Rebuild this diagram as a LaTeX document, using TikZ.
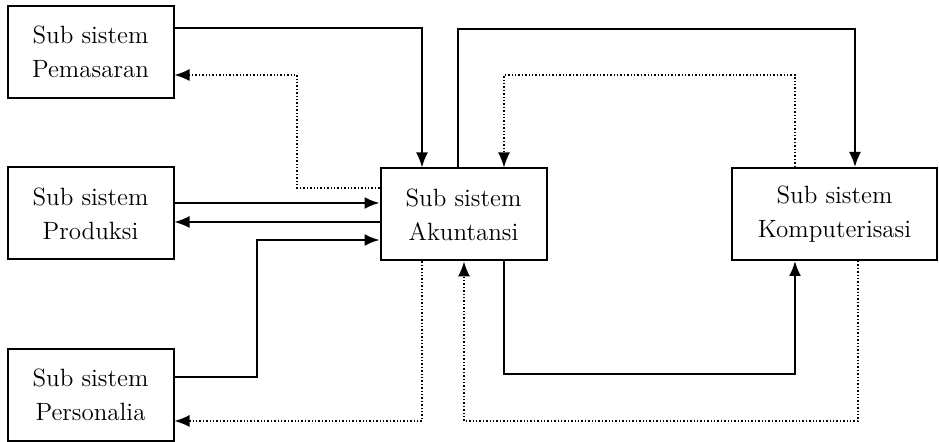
\documentclass[tikz,border=0pt]{standalone}
\usepackage{tikz}
\usetikzlibrary{arrows.meta,positioning}

\begin{document}
\begin{tikzpicture}[x=0.5pt,y=-0.5pt,>={Latex[length=7.5pt,width=6pt]},
    box/.style={draw,line width=1pt,minimum width=83pt,minimum height=46pt,align=center,inner sep=2pt,font=\fontsize{12.5}{17}\selectfont},
    flow/.style={->,line width=1pt},
    back/.style={->,densely dotted,line width=0.7pt}]
    \useasboundingbox (0,0) rectangle (939,442);
    \node[box] (pemasaran) at (90.5,52) {Sub sistem\\Pemasaran};
    \node[box] (produksi) at (90.5,213.5) {Sub sistem\\Produksi};
    \node[box] (personalia) at (90.5,395) {Sub sistem\\Personalia};
    \node[box] (akuntansi) at (463.5,214.5) {Sub sistem\\Akuntansi};
    \node[box,minimum width=102.5pt] (komputer) at (834.5,214) {Sub sistem\\Komputerisasi};
    % left side
    \draw[flow] (pemasaran.east |- 0,28) -| (akuntansi.north -| 422,0);
    \draw[back] (akuntansi.west |- 0,188) -| (297,75) -- (pemasaran.east |- 0,75);
    \draw[flow] (produksi.east |- 0,203) -- (akuntansi.west |- 0,203);
    \draw[->,line width=0.7pt] (akuntansi.west |- 0,222) -- (produksi.east |- 0,222);
    \draw[flow] (personalia.east |- 0,377) -| (257,240) -- (akuntansi.west |- 0,240);
    \draw[back] (akuntansi.south -| 422,0) |- (personalia.east |- 0,421);
    % right side
    \draw[flow] (akuntansi.north -| 458,0) |- (855,29) -- (komputer.north -| 855,0);
    \draw[back] (komputer.north -| 795,0) |- (504,75) -- (akuntansi.north -| 504,0);
    \draw[flow] (akuntansi.south -| 504,0) |- (795,374) -- (komputer.south -| 795,0);
    \draw[back] (komputer.south -| 858,0) |- (464,421) -- (akuntansi.south -| 464,0);
\end{tikzpicture}
\end{document}
